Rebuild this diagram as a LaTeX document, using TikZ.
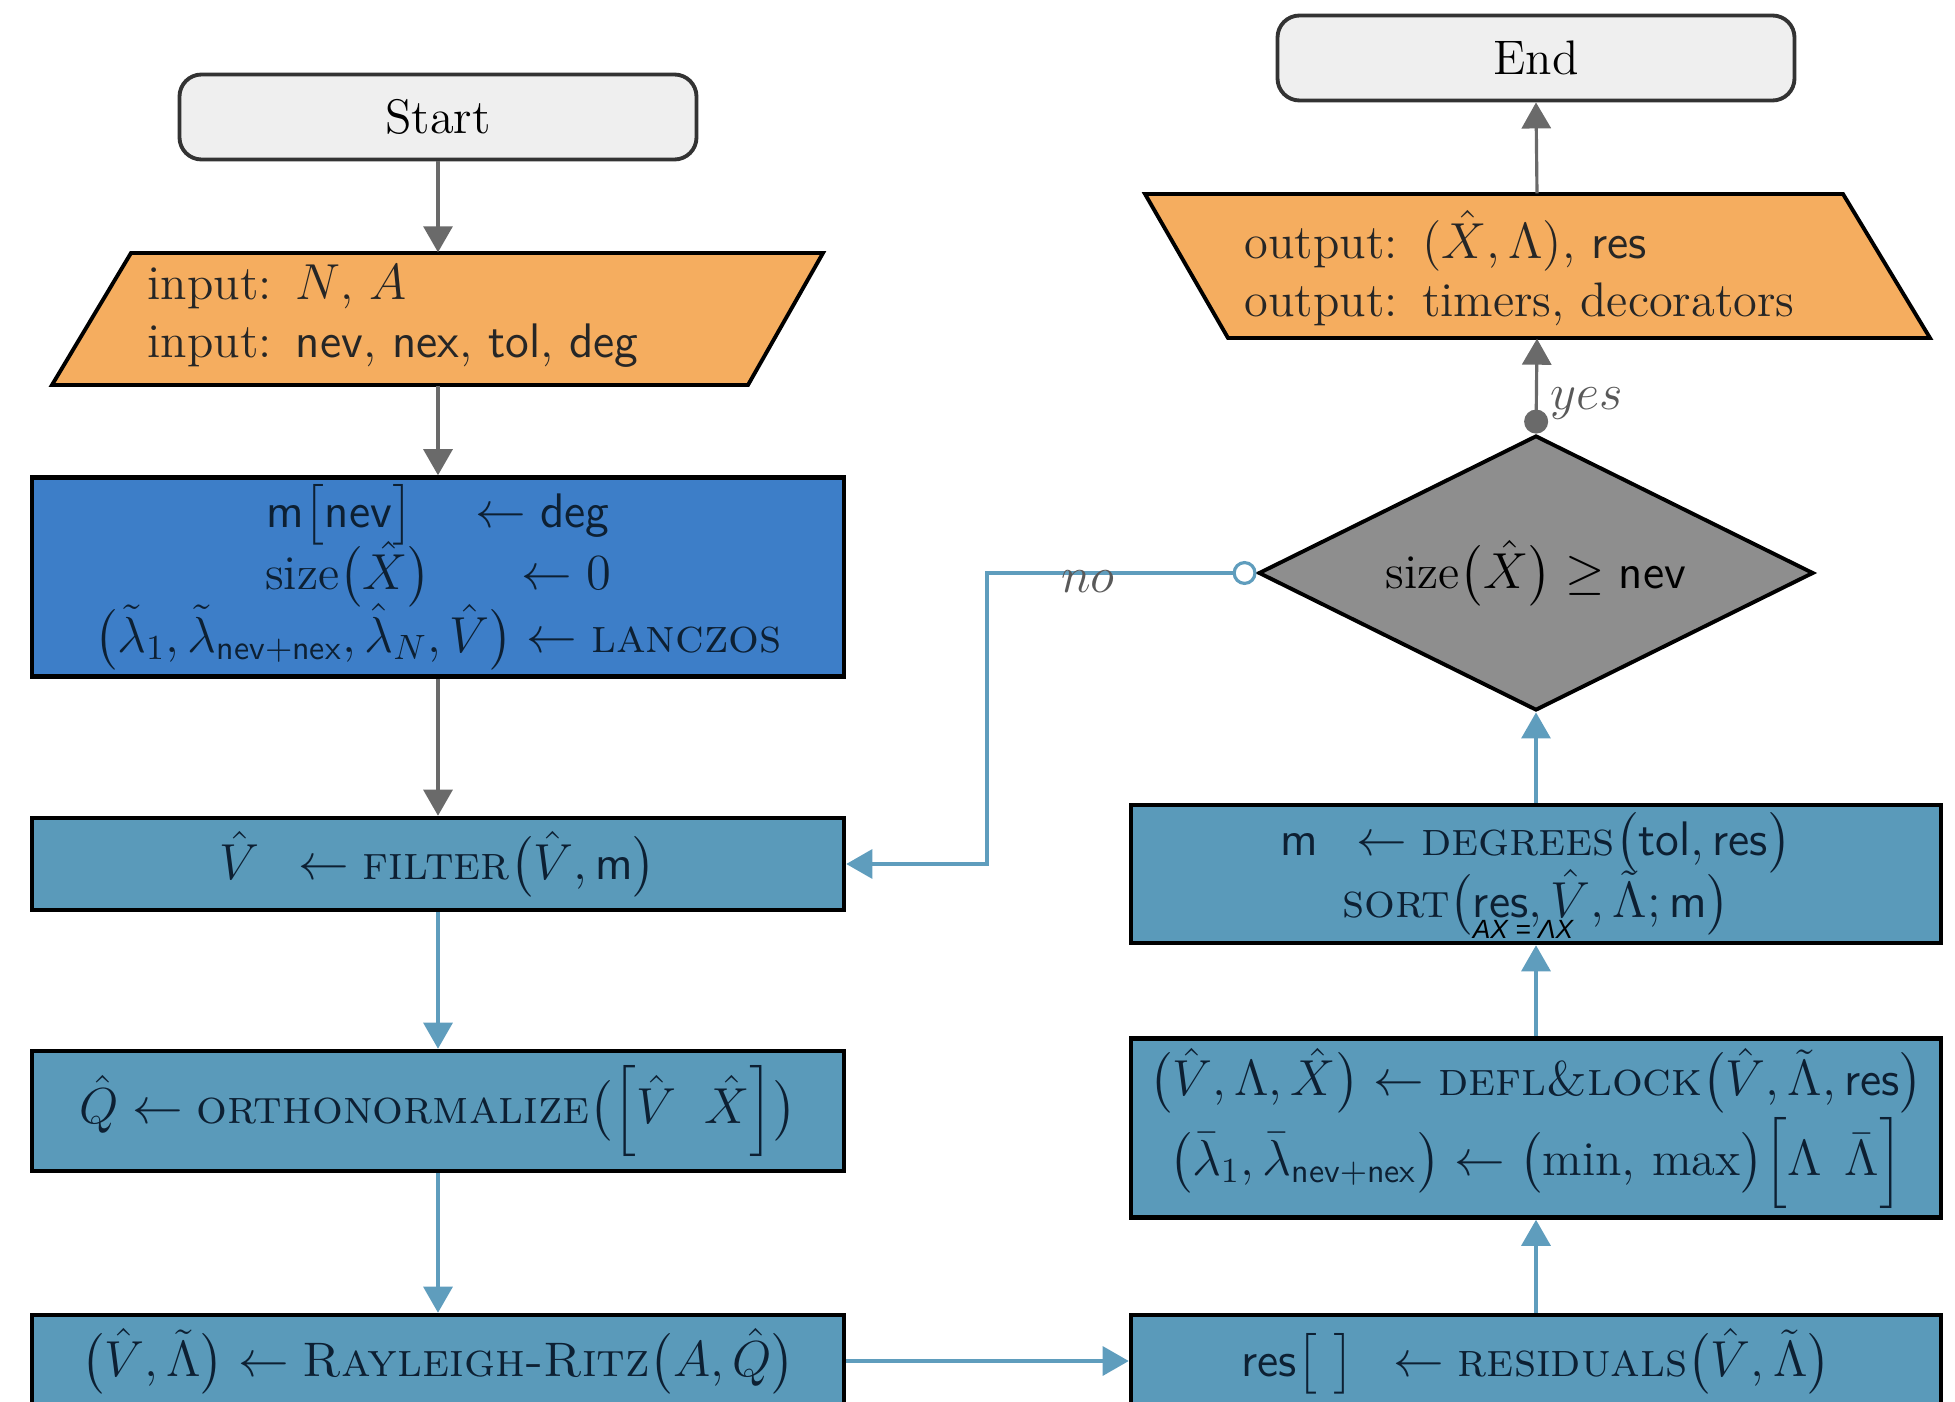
\documentclass[tikz,border=0pt]{standalone}
\usepackage{amsmath}
\usepackage{fontspec}
\newfontfamily\notefont{Liberation Sans}
\usetikzlibrary{shapes.geometric,arrows.meta}

\definecolor{termfill}{HTML}{EFEFEF}
\definecolor{iofill}{HTML}{F5AD5F}
\definecolor{initfill}{HTML}{3D7EC8}
\definecolor{procfill}{HTML}{5A9ABA}
\definecolor{decfill}{HTML}{8E8E8E}
\definecolor{grayline}{HTML}{6A6A6A}
\definecolor{steelline}{HTML}{5F9DBD}
\definecolor{inktext}{HTML}{0D2033}

\tikzset{
  base/.style={font=\fontsize{13.8}{16.5}\selectfont, inner sep=0pt, align=center},
  term/.style={base, draw=black!80, line width=1.1pt, fill=termfill, rounded corners=2.2mm,
    minimum width=51.7mm, minimum height=8.5mm},
  iobox/.style={draw=black, line width=1.1pt, fill=iofill},
  iotext/.style={base, align=left, anchor=west, text=black!85},
  initbox/.style={base, draw=black, line width=1.3pt, fill=initfill, text=inktext,
    minimum width=81.2mm},
  procbox/.style={base, draw=black, line width=1.3pt, fill=procfill, text=inktext,
    minimum width=81.0mm},
  decision/.style={base, diamond, aspect=2, draw=black, line width=1.1pt, fill=decfill,
    minimum width=55.5mm, minimum height=27.5mm},
  grayflow/.style={draw=grayline, line width=0.9pt, -{Triangle[length=2.6mm,width=2.9mm]}},
  steelflow/.style={draw=steelline, line width=0.9pt, -{Triangle[length=2.6mm,width=2.9mm]}},
  branchlbl/.style={font=\fontsize{13.8}{16}\selectfont, text=black!65, inner sep=0pt},
}

\begin{document}
\begin{tikzpicture}[x=0.1mm,y=-0.1mm]
\useasboundingbox (0,0) rectangle (1955,1402);
\clip (0,0) rectangle (1955,1402);

% ---------- left column ----------
\node[term] (start) at (438,117) {Start};

\path[iobox] (131,253) -- (823,253) -- (748,385) -- (52,385) -- cycle;
\node[base, minimum width=60mm, minimum height=13.2mm] (input) at (438,319) {};
\node[iotext] (inputtxt) at (147,316)
  {input:\enspace $N$, $A$\\ input:\enspace $\mathsf{nev}$, $\mathsf{nex}$, $\mathsf{tol}$, $\mathsf{deg}$};

\node[initbox, minimum height=19.9mm] (init) at (438,577)
  {$\mathsf{m}\bigl[\mathsf{nev}\bigr]\quad\leftarrow \mathsf{deg}$\\[-2pt]
   $\mathrm{size}\bigl(\hat{X}\bigr)\quad\;\;\leftarrow 0$\\[-2pt]
   $\bigl(\tilde{\lambda}_1, \tilde{\lambda}_{\mathsf{nev+nex}}, \hat{\lambda}_N, \hat{V}\bigr) \leftarrow \textsc{lanczos}$};

\node[initbox, fill=procfill, minimum height=9.2mm] (filter) at (438,864)
  {$\hat{V}\enspace\leftarrow \textsc{filter}\bigl(\hat{V},\mathsf{m}\bigr)$};

\node[initbox, fill=procfill, minimum height=12mm] (ortho) at (438,1111)
  {$\hat{Q} \leftarrow \textsc{orthonormalize}\bigl(\Bigl[\hat{V}\;\;\hat{X}\Bigr]\bigr)$};

\node[initbox, fill=procfill, minimum height=9.2mm] (rr) at (438,1361)
  {$\bigl(\hat{V}, \tilde{\Lambda}\bigr) \leftarrow \textsc{Rayleigh-Ritz}\bigl(A, \hat{Q}\bigr)$};

% ---------- right column ----------
\node[term] (end) at (1536,58) {End};

\path[iobox] (1145,194) -- (1843,194) -- (1930,338) -- (1228,338) -- cycle;
\node[base, minimum width=60mm, minimum height=14.4mm] (output) at (1537,266) {};
\node[iotext] (outputtxt) at (1244,268)
  {output:\enspace $(\hat{X}, \Lambda)$, $\mathsf{res}$\\ output:\enspace timers, decorators};

\node[decision] (check) at (1536,573) {$\mathrm{size}\bigl(\hat{X}\bigr) \geq \mathsf{nev}$};

\node[procbox, minimum height=13.8mm] (degrees) at (1536,874)
  {$\mathsf{m}\enspace\leftarrow \textsc{degrees}\bigl(\mathsf{tol},\mathsf{res}\bigr)$\\[-2pt]
   $\textsc{sort}\bigl(\mathsf{res}, \hat{V}, \tilde{\Lambda}; \mathsf{m}\bigr)$};

\node[procbox, minimum height=17.9mm] (defl) at (1536,1128)
  {$\bigl(\hat{V}, \Lambda, \hat{X}\bigr) \leftarrow \textsc{defl\&lock}\bigl(\hat{V}, \tilde{\Lambda}, \mathsf{res}\bigr)$\\
   $\bigl(\bar{\lambda}_1, \bar{\lambda}_{\mathsf{nev+nex}}\bigr) \leftarrow \bigl(\min,\, \max\bigr)\Bigl[\Lambda\;\,\bar{\Lambda}\Bigr]$};

\node[procbox, minimum height=9.2mm] (resid) at (1536,1361)
  {$\mathsf{res}\bigl[\ \bigr]\enspace\leftarrow \textsc{residuals}\bigl(\hat{V}, \tilde{\Lambda}\bigr)$};

\node[font=\notefont\itshape\fontsize{7.5}{9}\selectfont, inner sep=0pt] (eqnote) at (1523,929) {AX = ΛX};

% ---------- connectors ----------
\draw[grayflow] (start.south) -- (input.north);
\draw[grayflow] (input.south) -- (init.north);
\draw[grayflow] (init.south) -- (filter.north);
\draw[steelflow] (filter.south) -- (ortho.north);
\draw[steelflow] (ortho.south) -- (rr.north);
\draw[steelflow] (rr.east) -- (resid.west);
\draw[steelflow] (resid.north) -- (defl.south);
\draw[steelflow] (defl.north) -- (degrees.south);
\draw[steelflow] (degrees.north) -- (check.south);
\draw[grayflow, {Circle[length=2.4mm,fill=grayline]}-{Triangle[length=2.6mm,width=2.9mm]}]
  (check.north) -- (output.south);
\draw[grayflow] (output.north) -- (end.south);
\coordinate (turn) at (987,573);
\draw[steelflow, {Circle[open,length=2.4mm,fill=white]}-{Triangle[length=2.6mm,width=2.9mm]}]
  (check.west) -- (turn) |- (filter.east);

\node[branchlbl] (yeslbl) at (1587,404) {$yes$};
\node[branchlbl] (nolbl) at (1088,582) {$no$};
\end{tikzpicture}
\end{document}
